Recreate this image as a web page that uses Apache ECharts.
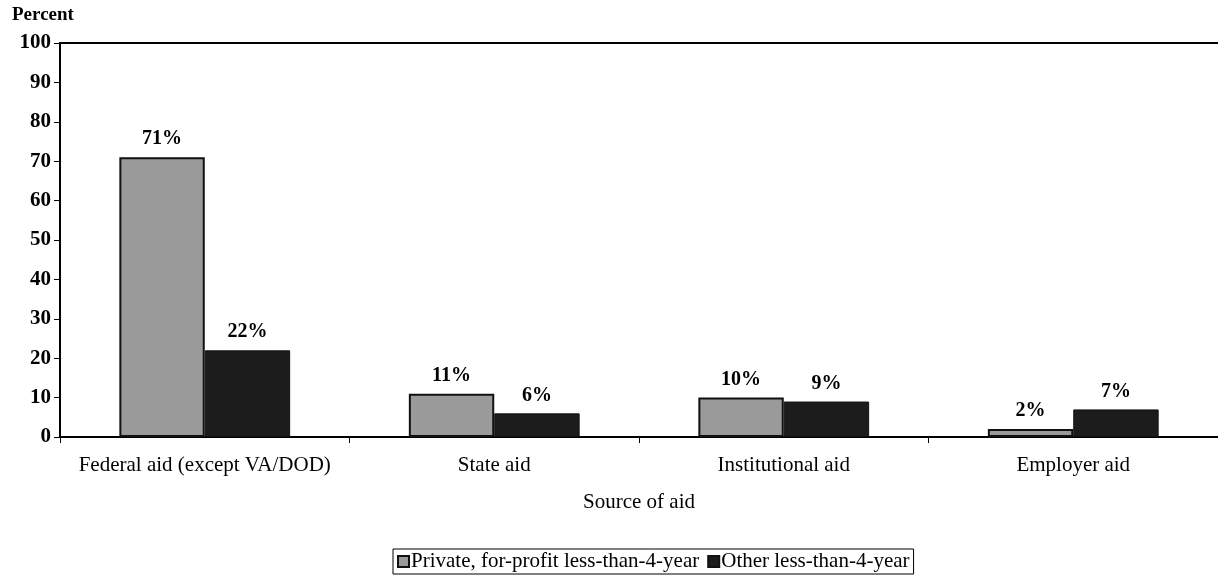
<!DOCTYPE html>
<html>
<head>
<meta charset="utf-8">
<title>Source of aid</title>
<script src="https://cdn.jsdelivr.net/npm/echarts@6/dist/echarts.min.js"></script>
<style>
    html, body {margin:0;padding:0;background:#fff;}
    #chart {width:1218px;height:577px;}
</style>
</head>
<body>
<div id="chart"></div>
<script>
    // 数据
    var categories = ['Federal aid (except VA/DOD)', 'State aid', 'Institutional aid', 'Employer aid'];
    var privateForProfit = [71, 11, 10, 2];
    var otherLess4 = [22, 6, 9, 7];
    var seriesNames = ['Private, for-profit less-than-4-year', 'Other less-than-4-year'];

    var serif = '"Liberation Serif", "DejaVu Serif", serif';

    var myChart = echarts.init(document.getElementById('chart'));

    var labelStyle = {
        show: true,
        position: 'top',
        distance: 8,
        formatter: '{c}%',
        color: '#000',
        fontFamily: serif,
        fontWeight: 'bold',
        fontSize: 20
    };

    var option = {
        backgroundColor: '#fff',
        animation: false,
        textStyle: {fontFamily: serif, color: '#000'},
        grid: {left: 60, right: 0, top: 43, bottom: 140},
        legend: {
            data: seriesNames,
            left: 393,
            bottom: 3,
            icon: 'rect',
            itemWidth: 11,
            itemHeight: 11,
            itemGap: 8,
            padding: [2, 4, 2, 4],
            borderColor: '#000',
            borderWidth: 1,
            borderRadius: 0,
            textStyle: {fontFamily: serif, fontSize: 21, color: '#000', padding: [0, 0, 0, -3]}
        },
        xAxis: [
            {
                type: 'category',
                data: categories,
                name: 'Source of aid',
                nameLocation: 'middle',
                nameGap: 55,
                nameTextStyle: {fontFamily: serif, fontSize: 21, color: '#000'},
                axisLine: {show: true, lineStyle: {color: '#000', width: 2}},
                axisTick: {show: true, interval: 0, length: 6, lineStyle: {color: '#000', width: 1}},
                axisLabel: {interval: 0, margin: 18, fontFamily: serif, fontSize: 21, color: '#000'}
            },
            {
                // 顶部边线
                type: 'category',
                data: categories,
                position: 'top',
                axisLine: {show: true, lineStyle: {color: '#000', width: 2}},
                axisTick: {show: false},
                axisLabel: {show: false}
            }
        ],
        yAxis: {
            type: 'value',
            min: 0,
            max: 100,
            interval: 10,
            name: 'Percent',
            nameLocation: 'end',
            nameGap: 18,
            nameTextStyle: {fontFamily: serif, fontSize: 19, fontWeight: 'bold', color: '#000', align: 'left', padding: [0, 0, 0, -48]},
            axisLine: {show: true, lineStyle: {color: '#000', width: 2}},
            axisTick: {show: true, inside: false, length: 6, lineStyle: {color: '#000'}},
            axisLabel: {margin: 9, fontFamily: serif, fontSize: 21, fontWeight: 'bold', color: '#000'},
            splitLine: {show: false}
        },
        series: [
            {
                name: seriesNames[0],
                type: 'bar',
                data: privateForProfit,
                barGap: '0%',
                barCategoryGap: '41%',
                itemStyle: {color: '#9a9a9a', borderColor: '#111', borderWidth: 2},
                label: labelStyle
            },
            {
                name: seriesNames[1],
                type: 'bar',
                data: otherLess4,
                itemStyle: {color: '#1c1c1c', borderColor: '#111', borderWidth: 1},
                label: labelStyle
            }
        ]
    };

    myChart.setOption(option);
</script>
</body>
</html>
